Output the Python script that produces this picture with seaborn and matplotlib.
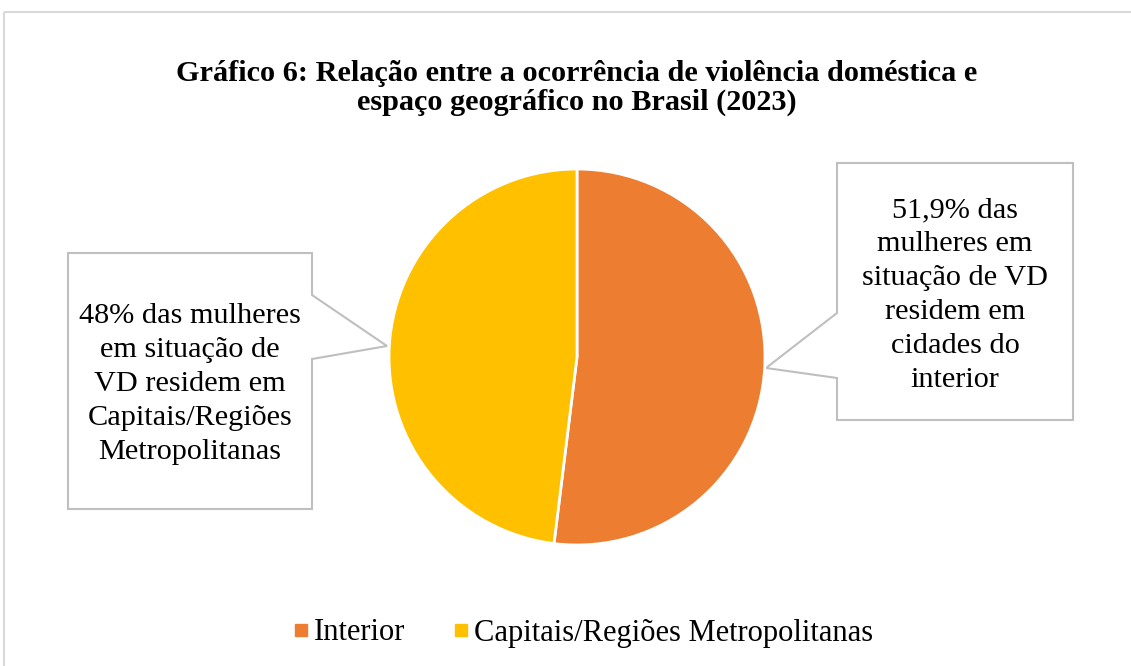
import matplotlib
matplotlib.use("Agg")
import matplotlib.pyplot as plt
import seaborn as sns
from matplotlib.patches import Polygon, Rectangle
from matplotlib.lines import Line2D

# ---------------------------
# Data
# ---------------------------
categories = ["Interior", "Capitais/Regiões Metropolitanas"]
values = [51.9, 48.0]
colors = ["#ED7D31", "#FFC000"]
title = ("Gráfico 6: Relação entre a ocorrência de violência doméstica e\n"
         "espaço geográfico no Brasil (2023)")
callout_right = "51,9% das\nmulheres em\nsituação de VD\nresidem em\ncidades do\ninterior"
callout_left = "48% das mulheres\nem situação de\nVD residem em\nCapitais/Regiões\nMetropolitanas"

# ---------------------------
# Style
# ---------------------------
sns.set_theme(style="white")
plt.rcParams['font.family'] = ['Liberation Serif', 'DejaVu Serif']
plt.rcParams['text.color'] = 'black'

W, H = 1131, 666
fig = plt.figure(figsize=(W / 100, H / 100), dpi=100)

# overlay in pixel coordinates for frame, callouts
over = fig.add_axes([0, 0, 1, 1])
over.set_xlim(0, W)
over.set_ylim(H, 0)
over.axis("off")
over.add_patch(Rectangle((4, 12), W + 10, H, fill=False, ec="#D9D9D9", lw=1.5))

# ---------------------------
# Pie
# ---------------------------
cx, cy, r = 577, 357, 188
ax = fig.add_axes([(cx - r) / W, (H - cy - r) / H, 2 * r / W, 2 * r / H])
ax.pie(values, colors=colors, startangle=90, counterclock=False,
       wedgeprops=dict(edgecolor="white", linewidth=2))
ax.set_xlim(-1, 1)
ax.set_ylim(-1, 1)
ax.set_aspect("equal")
ax.axis("off")

# ---------------------------
# Callouts
# ---------------------------
box_kw = dict(fc="white", ec="#BFBFBF", lw=1.5, zorder=3)
right_shape = [(837, 163), (1073, 163), (1073, 420), (837, 420),
               (837, 378), (766, 368), (837, 313)]
left_shape = [(68, 253), (312, 253), (312, 295), (387, 346),
              (312, 359), (312, 509), (68, 509)]
over.add_patch(Polygon(right_shape, closed=True, **box_kw))
over.add_patch(Polygon(left_shape, closed=True, **box_kw))
over.text(955, 295, callout_right, ha="center", va="center", fontsize=21.8,
          linespacing=1.4, zorder=4)
over.text(190, 384, callout_left, ha="center", va="center", fontsize=21.8,
          linespacing=1.4, zorder=4)

# Title
over.text(577, 88, title, ha="center", va="center", fontsize=21.8,
          fontweight="bold", linespacing=1.12)

# Legend
handles = [Line2D([0], [0], marker="s", ls="", color=c, markersize=8) for c in colors]
fig.legend(handles, categories, loc="center", bbox_to_anchor=(584 / W, 1 - 633 / H),
           ncol=2, frameon=False, fontsize=22, handlelength=0.4,
           handletextpad=0.25, columnspacing=1.6)

fig.savefig("out.png", dpi=100)
